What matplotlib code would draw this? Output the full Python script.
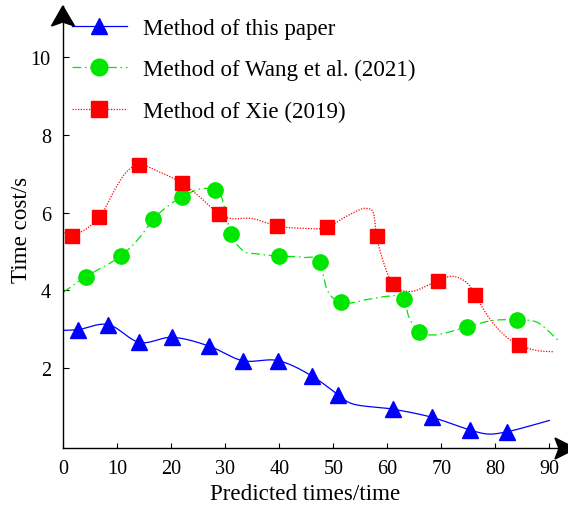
import numpy as np
import matplotlib
matplotlib.use("Agg")
import matplotlib.pyplot as plt
from matplotlib.patches import Polygon
from matplotlib.lines import Line2D

plt.rcParams['font.family'] = ['Liberation Serif', 'DejaVu Serif']

# ---------------- data ----------------
labels = ["Method of this paper", "Method of Wang et al. (2021)", "Method of Xie (2019)"]

# Method of this paper (markers)
ours_x = [2.8, 8.3, 14.1, 20.1, 26.9, 33.2, 39.8, 46.1, 50.9, 61.1, 68.3, 75.4, 82.2]
ours_y = [2.99, 3.12, 2.66, 2.79, 2.57, 2.19, 2.19, 1.79, 1.31, 0.94, 0.73, 0.40, 0.36]
# curve knots (line only)
ours_cx = [0, 2.8, 8.3, 14.1, 20.1, 26.9, 33.2, 39.8, 46.1, 50.9, 53.1, 61.1, 68.3, 75.4, 78.7, 82.2, 90.0]
ours_cy = [2.97, 2.99, 3.12, 2.66, 2.79, 2.57, 2.19, 2.19, 1.79, 1.31, 1.10, 0.94, 0.73, 0.40, 0.30, 0.36, 0.65]

# Method of Wang et al. (2021)
wang_x = [4.15, 10.6, 16.7, 21.9, 28.0, 31.1, 40.0, 47.5, 51.4, 63.1, 65.9, 74.8, 84.1]
wang_y = [4.35, 4.88, 5.84, 6.40, 6.58, 5.45, 4.88, 4.72, 3.69, 3.78, 2.94, 3.06, 3.24]
wang_cx = [0, 4.15, 10.6, 14.2, 16.7, 19.1, 21.9, 25.3, 28.0, 29.3, 31.1, 33.3, 35.8, 40.0, 44.4,
           47.5, 48.8, 51.4, 56.2, 60.5, 63.1, 63.9, 65.9, 68.5, 74.8, 79.3, 84.1, 87.7, 90.1, 91.7]
wang_cy = [3.95, 4.35, 4.88, 5.37, 5.84, 6.14, 6.40, 6.61, 6.58, 6.40, 5.45, 5.02, 4.94, 4.88, 4.85,
           4.72, 4.03, 3.69, 3.76, 3.85, 3.78, 3.35, 2.94, 2.85, 3.06, 3.22, 3.24, 3.18, 2.92, 2.70]

# Method of Xie (2019)
xie_x = [1.55, 6.67, 14.07, 22.0, 28.8, 39.5, 48.8, 58.0, 61.0, 69.4, 76.2, 84.3]
xie_y = [5.41, 5.88, 7.23, 6.76, 5.97, 5.66, 5.62, 5.41, 4.16, 4.25, 3.89, 2.60]
xie_cx = [0, 1.55, 6.67, 9.6, 11.7, 14.07, 17.9, 22.0, 25.3, 28.8, 31.0, 34.9, 39.5, 43.8, 48.8,
          52.5, 56.2, 57.5, 58.0, 59.3, 61.0, 64.2, 69.4, 72.2, 75.0, 76.2, 79.0, 81.8, 84.3, 87.7, 90.7]
xie_cy = [5.49, 5.41, 5.88, 6.61, 7.05, 7.23, 7.04, 6.76, 6.40, 5.97, 5.85, 5.85, 5.66, 5.60, 5.62,
          5.91, 6.11, 5.96, 5.41, 4.72, 4.16, 3.97, 4.25, 4.36, 4.16, 3.89, 3.26, 2.83, 2.60, 2.45, 2.42]

x_ticks = [0, 10, 20, 30, 40, 50, 60, 70, 80, 90]
y_ticks = [2, 4, 6, 8, 10]


def catmull_rom(xs, ys, n=30, alpha=0.5):
    P = np.column_stack([xs, ys]).astype(float)
    P = np.vstack([2 * P[0] - P[1], P, 2 * P[-1] - P[-2]])
    out = []
    for i in range(1, len(P) - 2):
        p0, p1, p2, p3 = P[i - 1], P[i], P[i + 1], P[i + 2]
        t0 = 0.0
        t1 = t0 + max(np.linalg.norm(p1 - p0), 1e-6) ** alpha
        t2 = t1 + max(np.linalg.norm(p2 - p1), 1e-6) ** alpha
        t3 = t2 + max(np.linalg.norm(p3 - p2), 1e-6) ** alpha
        t = np.linspace(t1, t2, n)[:, None]
        A1 = (t1 - t) / (t1 - t0) * p0 + (t - t0) / (t1 - t0) * p1
        A2 = (t2 - t) / (t2 - t1) * p1 + (t - t1) / (t2 - t1) * p2
        A3 = (t3 - t) / (t3 - t2) * p2 + (t - t2) / (t3 - t2) * p3
        B1 = (t2 - t) / (t2 - t0) * A1 + (t - t0) / (t2 - t0) * A2
        B2 = (t3 - t) / (t3 - t1) * A2 + (t - t1) / (t3 - t1) * A3
        C = (t2 - t) / (t2 - t1) * B1 + (t - t1) / (t2 - t1) * B2
        out.append(C if i == 1 else C[1:])
    C = np.vstack(out)
    return C[:, 0], C[:, 1]


# ---------------- figure ----------------
W, H = 568, 510
fig = plt.figure(figsize=(W / 100, H / 100), dpi=100)
ax_l, ax_b = 63.3, 449.3
ax_r, ax_t = 567.0, 7.0
ax = fig.add_axes([ax_l / W, 1 - ax_b / H, (ax_r - ax_l) / W, (ax_b - ax_t) / H])

xpx = 5.4
ypx = 38.84
y0px = 446.7
ax.set_xlim(0, (ax_r - ax_l) / xpx)
ax.set_ylim((y0px - ax_b) / ypx, (y0px - ax_t) / ypx)

blue = '#0000ff'
green = '#00e600'
red = '#ff0000'
lw = 0.9

cx, cy = catmull_rom(ours_cx, ours_cy)
ax.plot(cx, cy, color=blue, lw=lw, ls='-', zorder=2)
ax.plot(ours_x, ours_y, ls='none', marker='^', ms=11, color=blue, mec=blue, zorder=3)

cx, cy = catmull_rom(wang_cx, wang_cy)
gls = (0, (7, 3, 1.2, 3))
ax.plot(cx, cy, color=green, lw=lw, ls=gls, zorder=2)
ax.plot(wang_x, wang_y, ls='none', marker='o', ms=11, color=green, mec=green, zorder=3)

cx, cy = catmull_rom(xie_cx, xie_cy)
rls = (0, (1, 1.2))
ax.plot(cx, cy, color=red, lw=lw, ls=rls, zorder=2)
ax.plot(xie_x, xie_y, ls='none', marker='s', ms=10.5, color=red, mec=red, zorder=3)

for s in ['top', 'right']:
    ax.spines[s].set_visible(False)
for s in ['left', 'bottom']:
    ax.spines[s].set_linewidth(1.0)
    ax.spines[s].set_color('black')

ax.set_xticks(x_ticks)
ax.set_yticks(y_ticks)
ax.set_xticklabels([str(v) for v in x_ticks])
ax.set_yticklabels([str(v) for v in y_ticks])
ax.tick_params(axis='x', direction='in', length=3.5, width=0.8, pad=8, labelsize=14.5)
ax.tick_params(axis='y', direction='in', length=4.5, width=0.8, pad=9, labelsize=14.5)

fig.text(305 / W, 1 - 495 / H, "Predicted times/time", ha='center', va='center', fontsize=16.6)
fig.text(22 / W, 1 - 230 / H, "Time cost/s", ha='center', va='center', rotation=90, fontsize=16.6)

# arrows at the axis ends
def px(x, y):
    return (x / W, 1 - y / H)

yarrow = Polygon([px(62.8, 7), px(51.5, 27), px(62.8, 23), px(74.5, 27)], closed=True,
                 transform=fig.transFigure, color='black', zorder=5)
xarrow = Polygon([px(576, 449.5), px(555, 439), px(559, 449.5), px(555, 460)], closed=True,
                 transform=fig.transFigure, color='black', zorder=5)
fig.patches.extend([yarrow, xarrow])

# legend
handles = [
    Line2D([], [], color=blue, lw=lw, ls='-', marker='^', ms=12, mec=blue),
    Line2D([], [], color=green, lw=lw, ls=gls, marker='o', ms=12, mec=green),
    Line2D([], [], color=red, lw=lw, ls=rls, marker='s', ms=12, mec=red),
]
fs_leg = 16.6
leg = ax.legend(handles, labels, loc='upper left', bbox_to_anchor=(72 / W, 1 - 19 / H),
                bbox_transform=fig.transFigure, frameon=False, fontsize=fs_leg,
                handlelength=2.37, handletextpad=0.69, labelspacing=0.87, borderpad=0,
                borderaxespad=0, numpoints=1)

fig.savefig("out.png", dpi=100)
